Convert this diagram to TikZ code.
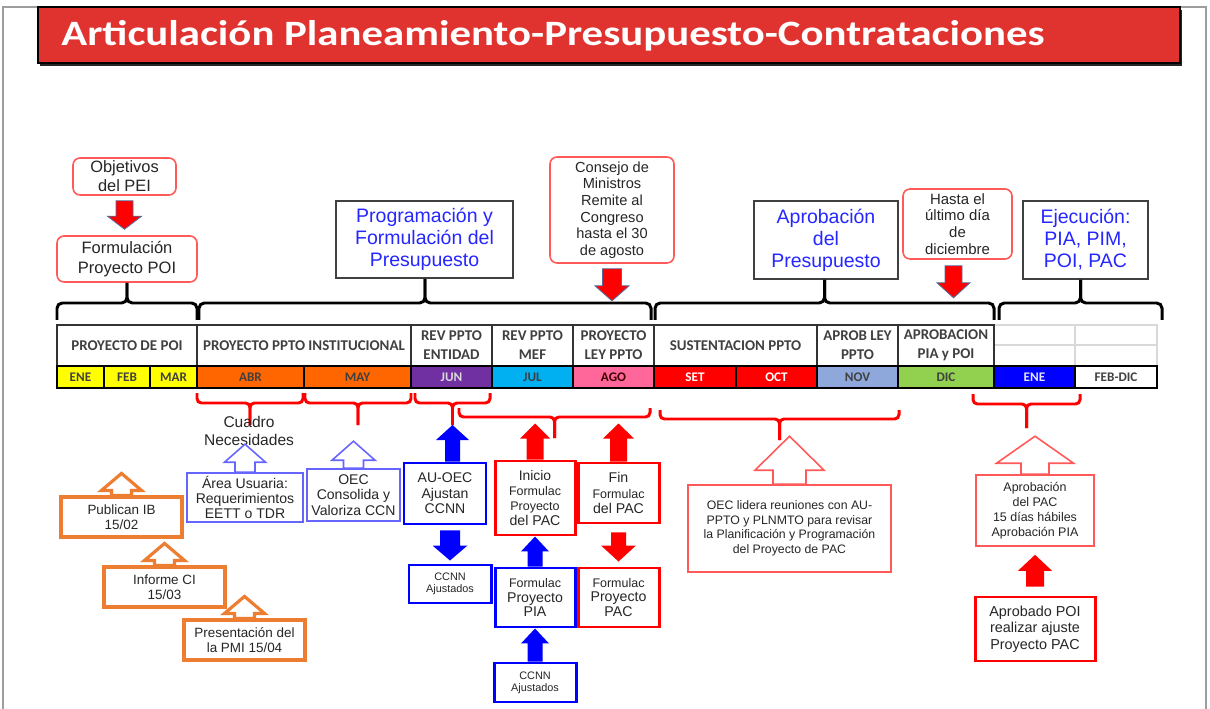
\documentclass[tikz,border=0pt]{standalone}
\usepackage{fontspec}
\setmainfont{Liberation Sans}
\newfontfamily\calib{Carlito}
\usetikzlibrary{calc}
\definecolor{TitleClr}{rgb}{0.88,0.2,0.19}
\definecolor{FrameClr}{rgb}{0.62,0.62,0.62}
\definecolor{SoftRedClr}{rgb}{1,0.35,0.35}
\definecolor{EdgeClr}{rgb}{0.33,0.42,0.6}
\definecolor{LightBlueClr}{rgb}{0.4,0.4,1}
\definecolor{OrangeClr}{rgb}{0.93,0.49,0.19}
\definecolor{TextBlueClr}{rgb}{0.15,0.15,1}
\definecolor{HeadClr}{rgb}{0.25,0.25,0.25}
\definecolor{GridClr}{rgb}{0.85,0.85,0.85}
\definecolor{EneClr}{rgb}{1,1,0}
\definecolor{AbrClr}{rgb}{1,0.4,0}
\definecolor{JunClr}{rgb}{0.44,0.19,0.63}
\definecolor{JulClr}{rgb}{0,0.69,0.94}
\definecolor{AgoClr}{rgb}{1,0.4,0.6}
\definecolor{NovClr}{rgb}{0.56,0.66,0.86}
\definecolor{DicClr}{rgb}{0.57,0.82,0.31}

\newcommand\PX{0.02cm}
\newcommand\BlockArrow[6]{%
  \coordinate (ba-s) at #2;
  \coordinate (ba-t) at #3;
  \coordinate (ba-b) at ($(ba-t)!#6*\PX!(ba-s)$);
  \path[#1] ($(ba-s)!#4*\PX!90:(ba-t)$) -- ($(ba-b)!#4*\PX!90:(ba-t)$)
    -- ($(ba-b)!#5*\PX!90:(ba-t)$) -- (ba-t) -- ($(ba-b)!#5*\PX!-90:(ba-t)$)
    -- ($(ba-b)!#4*\PX!-90:(ba-t)$) -- ($(ba-s)!#4*\PX!-90:(ba-t)$) -- cycle;}
\newcommand\TopBrace[3]{%
  \coordinate (tb) at ({(#1+#2)/2},303);
  \draw[kbrace] (#1,320) -- (#1,303) -- (tb) -- (tb |- #3.south);
  \draw[kbrace] (#2,320) -- (#2,303) -- (tb) -- (tb |- #3.south);}
\newcommand\RedBrace[6]{%
  \coordinate (#6) at ({(#1+#2)/2},#5);
  \draw[rbrace] (#1,#3) -- (#1,#4) -- ({(#1+#2)/2},#4) -- (#6);
  \draw[rbrace] (#2,#3) -- (#2,#4) -- ({(#1+#2)/2},#4) -- (#6);}

\begin{document}
\begin{tikzpicture}[x=0.02cm,y=-0.02cm,
  every node/.style={inner sep=0pt,align=center,text=black!85},
  spanbox/.style n args={4}{minimum width={(#3-#1)*0.02cm},minimum height={(#4-#2)*0.02cm},at={({(#1+#3)/2},{(#2+#4)/2})}},
  redround/.style={draw=SoftRedClr,line width=0.9pt,rounded corners=4pt,fill=white},
  graybox/.style={draw=black!75,line width=0.9pt,fill=white,text=TextBlueClr,font=\fontsize{11.1}{12.5}\selectfont},
  hcell/.style={draw=black!80,line width=0.8pt,text=HeadClr,font=\calib\bfseries\fontsize{8.5}{10.8}\selectfont},
  mcell/.style={draw=black,line width=1.1pt,text=HeadClr,font=\calib\bfseries\fontsize{7.5}{9}\selectfont},
  thinblue/.style={draw=LightBlueClr,line width=0.9pt,fill=white,font=\fontsize{8}{8.8}\selectfont},
  orangebox/.style={draw=OrangeClr,line width=1.8pt,fill=white,font=\fontsize{7.65}{8.5}\selectfont},
  bluebox/.style={draw=blue,line width=1.7pt,fill=white},
  redbox/.style={draw=red,line width=1.7pt,fill=white},
  thinred/.style={draw=SoftRedClr,line width=0.9pt,fill=white},
  kbrace/.style={draw=black,line width=1.7pt,rounded corners=3pt},
  rbrace/.style={draw=red,line width=1.7pt,rounded corners=2.5pt},
  sred/.style={fill=red,draw=EdgeClr,line width=0.5pt},
  sredplain/.style={fill=red},
  sblue/.style={fill=blue},
  hblue/.style={draw=LightBlueClr,fill=white,line width=0.9pt},
  hred/.style={draw=SoftRedClr,fill=white,line width=0.9pt},
  horange/.style={draw=OrangeClr,fill=white,line width=1.8pt}]

\useasboundingbox (0,0) rectangle (1210,709);
\draw[FrameClr,line width=0.8pt] (3,709) -- (3,7) -- (1206,7) -- (1206,709);

\fill[black!85] (40,10) rectangle (1182,66);
\node[fill=TitleClr,draw=black,line width=0.7pt,spanbox={38}{7}{1180}{63}] (bar) {};
\node[anchor=base west,text=white,font=\calib\bfseries\fontsize{20.3}{24}\selectfont] (title) at (61,46) {\scalebox{1.2}[1]{Articulación Planeamiento-Presupuesto-Contrataciones}};

\node[redround,spanbox={73}{158}{176}{195},font=\fontsize{9.35}{10.8}\selectfont] (obj) {Objetivos\\del PEI};
\node[redround,spanbox={57}{236}{197}{282},font=\fontsize{9.4}{11.3}\selectfont] (formul) {Formulación\\Proyecto POI};
\node[graybox,spanbox={336}{201}{513}{278}] (prog) {Programación y\\Formulación del\\Presupuesto};
\node[redround,spanbox={550}{157}{674}{263},font=\fontsize{8.3}{9.4}\selectfont] (cons) {Consejo de\\Ministros\\Remite al\\Congreso\\hasta el 30\\de agosto};
\node[graybox,spanbox={754}{201}{898}{279}] (aprobp) {Aprobación\\del\\Presupuesto};
\node[redround,spanbox={903}{189}{1012}{259},font=\fontsize{8.5}{9.6}\selectfont] (hasta) {Hasta el\\último día\\de\\diciembre};
\node[graybox,spanbox={1023}{201}{1148}{279}] (ejec) {Ejecución:\\PIA, PIM,\\POI, PAC};

\TopBrace{57}{197}{formul}
\TopBrace{199}{651}{prog}
\TopBrace{655}{994}{aprobp}
\TopBrace{999}{1162}{ejec}

\draw[GridClr,line width=0.8pt] (994,325) -- (1157,325) -- (1157,366) (994,345) -- (1157,345) (1075,325) -- (1075,366);
\node[hcell,spanbox={57}{325}{197}{366}] (hpoi) {PROYECTO DE POI};
\node[hcell,spanbox={197}{325}{411}{366}] (hppto) {PROYECTO PPTO INSTITUCIONAL};
\node[hcell,spanbox={411}{325}{492}{366}] (hent) {REV PPTO\\ENTIDAD};
\node[hcell,spanbox={492}{325}{573}{366}] (hmef) {REV PPTO\\MEF};
\node[hcell,spanbox={573}{325}{654}{366}] (hley) {PROYECTO\\LEY PPTO};
\node[hcell,spanbox={654}{325}{817}{366}] (hsus) {SUSTENTACION PPTO};
\node[hcell,spanbox={817}{325}{898}{366}] (hapr) {APROB LEY\\PPTO};
\node[hcell,spanbox={898}{325}{994}{366}] (hpia) {APROBACION\\PIA y POI};

\node[mcell,fill=EneClr,spanbox={57}{366}{104}{388}] (m1) {ENE};
\node[mcell,fill=EneClr,spanbox={104}{366}{150}{388}] (m2) {FEB};
\node[mcell,fill=EneClr,spanbox={150}{366}{197}{388}] (m3) {MAR};
\node[mcell,fill=AbrClr,spanbox={197}{366}{304}{388}] (m4) {ABR};
\node[mcell,fill=AbrClr,spanbox={304}{366}{411}{388}] (m5) {MAY};
\node[mcell,fill=JunClr,text=white!85!black,spanbox={411}{366}{492}{388}] (m6) {JUN};
\node[mcell,fill=JulClr,spanbox={492}{366}{573}{388}] (m7) {JUL};
\node[mcell,fill=AgoClr,text=black!75!red,spanbox={573}{366}{654}{388}] (m8) {AGO};
\node[mcell,fill=red,text=white,spanbox={654}{366}{736}{388}] (m9) {SET};
\node[mcell,fill=red,text=white,spanbox={736}{366}{817}{388}] (m10) {OCT};
\node[mcell,fill=NovClr,spanbox={817}{366}{898}{388}] (m11) {NOV};
\node[mcell,fill=DicClr,spanbox={898}{366}{994}{388}] (m12) {DIC};
\node[mcell,fill=blue,text=white!90!blue,spanbox={994}{366}{1075}{388}] (m13) {ENE};
\node[mcell,fill=white,spanbox={1075}{366}{1157}{388}] (m14) {FEB-DIC};

\RedBrace{197}{303}{393}{403}{425}{babr}
\RedBrace{305}{411}{393}{403}{425}{bmay}
\RedBrace{415}{490}{393}{403}{425}{bjun}
\RedBrace{459}{650}{408}{417}{438}{bjul}
\RedBrace{660}{899}{410}{419}{440}{bsus}
\RedBrace{973}{1080}{394}{404}{428}{bdic}

\node[font=\fontsize{8.85}{10.2}\selectfont] (cuadro) at (249,431) {Cuadro\\Necesidades};
\node[thinblue,spanbox={187}{473}{303}{522}] (area) {Área Usuaria:\\Requerimientos\\EETT o TDR};
\node[thinblue,spanbox={307}{469}{400}{521}] (oecc) {OEC\\Consolida y\\Valoriza CCN};
\node[orangebox,spanbox={61}{497}{182}{537}] (pub) {Publican IB\\15/02};
\node[orangebox,spanbox={104}{567}{225}{607}] (inf) {Informe CI\\15/03};
\node[orangebox,spanbox={184}{620}{305}{660}] (pres) {Presentación del\\la PMI 15/04};

\node[bluebox,spanbox={404}{463}{486}{524},font=\fontsize{8}{8.8}\selectfont] (auoec) {AU-OEC\\Ajustan\\CCNN};
\node[bluebox,spanbox={409}{565}{491}{603},font=\fontsize{6.2}{6.9}\selectfont] (ccnn1) {CCNN\\Ajustados};
\node[redbox,spanbox={495}{461}{575}{535},font=\fontsize{7.1}{8.5}\selectfont] (inicio) {{\fontsize{7.9}{8.5}\selectfont Inicio}\\Formulac\\Proyecto\\{\fontsize{8.05}{8.5}\selectfont del PAC}};
\node[redbox,spanbox={578}{463}{659}{523},font=\fontsize{7.1}{8.7}\selectfont] (fin) {{\fontsize{8.05}{8.7}\selectfont Fin}\\Formulac\\{\fontsize{8.05}{8.7}\selectfont del PAC}};
\node[bluebox,spanbox={495}{568}{575}{627},font=\fontsize{8.05}{8.5}\selectfont] (pia) {{\fontsize{7.1}{8.5}\selectfont Formulac}\\Proyecto\\PIA};
\node[redbox,spanbox={578}{568}{659}{627},font=\fontsize{8.05}{8.5}\selectfont] (pac) {{\fontsize{7.1}{8.5}\selectfont Formulac}\\Proyecto\\PAC};
\node[bluebox,spanbox={494}{663}{576}{702},font=\fontsize{6.2}{6.9}\selectfont] (ccnn2) {CCNN\\Ajustados};

\node[thinred,spanbox={688}{485}{891}{572},font=\fontsize{7}{8.3}\selectfont] (lidera) {OEC lidera reuniones con AU-\\PPTO y PLNMTO para revisar\\la Planificación y Programación\\del Proyecto de PAC};
\node[thinred,spanbox={976}{475}{1094}{546},font=\fontsize{7.1}{8.5}\selectfont] (apac) {Aprobación\\del PAC\\15 días hábiles\\Aprobación PIA};
\node[redbox,spanbox={975}{597}{1095}{661},font=\fontsize{8.2}{9.35}\selectfont] (apoi) {Aprobado POI\\realizar ajuste\\Proyecto PAC};

\BlockArrow{sred}{($(obj.south)+(0,5)$)}{($(obj.south |- formul.north)+(0,-6)$)}{8.5}{17}{13}
\BlockArrow{sred}{($(cons.south)+(0,5)$)}{($(cons.south)+(0,37)$)}{9.5}{17}{15}
\BlockArrow{sred}{($(hasta.south)+(-4,6)$)}{($(hasta.south)+(-4,38)$)}{8.5}{16.5}{15}

\BlockArrow{sblue}{(bjun |- auoec.north)}{(bjun)}{7.5}{16.5}{15}
\BlockArrow{sblue}{($(ccnn1.north |- auoec.south)+(0,5)$)}{($(ccnn1.north)+(0,-3)$)}{10}{17.5}{15}
\BlockArrow{sredplain}{(inicio.north)}{($(inicio.north)+(0,-36)$)}{8.5}{15}{15}
\BlockArrow{sredplain}{(fin.north)}{($(fin.north)+(0,-38)$)}{8.5}{15.5}{15}
\BlockArrow{sblue}{(pia.north)}{(inicio.south)}{7.5}{14}{15}
\BlockArrow{sredplain}{($(fin.south)+(0,8)$)}{($(pac.north)+(0,-5)$)}{7.5}{17.5}{16}
\BlockArrow{sblue}{(ccnn2.north)}{(pia.south)}{7.5}{14}{15}
\BlockArrow{sredplain}{($(apoi.north)+(0,-9)$)}{($(apac.south)+(0,8)$)}{9}{17}{16}

\BlockArrow{hblue}{(area.north)}{($(area.north)+(0,-28)$)}{10}{20.5}{18}
\BlockArrow{hblue}{(oecc.north)}{($(oecc.north)+(0,-27)$)}{10}{21.5}{19}
\BlockArrow{horange}{(pub.north)}{($(pub.north)+(0,-22)$)}{10}{20}{17}
\BlockArrow{horange}{(inf.north)}{($(inf.north)+(0,-22)$)}{10}{20}{17}
\BlockArrow{horange}{(pres.north)}{($(pres.north)+(0,-22)$)}{10}{20}{17}
\BlockArrow{hred}{(lidera.north)}{($(lidera.north)+(0,-48)$)}{16.5}{34.5}{34}
\BlockArrow{hred}{(apac.north)}{($(apac.north)+(0,-38)$)}{14}{38.5}{27}

\end{tikzpicture}
\end{document}
